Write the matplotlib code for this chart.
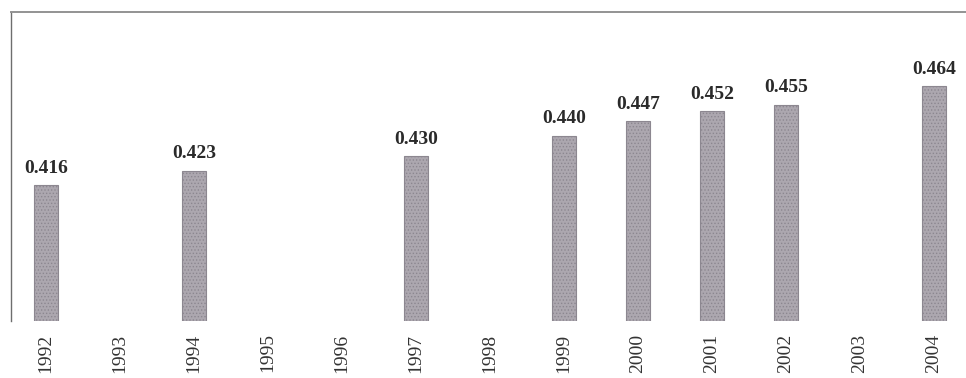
import numpy as np
import matplotlib.pyplot as plt

# Gini values by year (blank years have no survey)
years = ['1992', '1993', '1994', '1995', '1996', '1997', '1998',
         '1999', '2000', '2001', '2002', '2003', '2004']
gini = [0.416, None, 0.423, None, None, 0.430, None,
        0.440, 0.447, 0.452, 0.455, None, 0.464]

plt.rcParams['font.family'] = ['Liberation Serif', 'DejaVu Serif']
plt.rcParams['hatch.linewidth'] = 0.6

fig = plt.figure(figsize=(9.66, 3.78), dpi=100)
ax = fig.add_axes([11 / 966, 1 - 321 / 378, 955 / 966, 309 / 378])

x = np.arange(len(years))
idx = [i for i, v in enumerate(gini) if v is not None]
vals = [gini[i] for i in idx]

ax.bar(idx, vals, width=0.33, color='#aca7af',
       edgecolor='#8c8790', linewidth=0.8, hatch='.....', zorder=2)

# value labels, slightly spread out like the printed figure
for i, v in zip(idx, vals):
    ax.annotate(f'{v:.3f}', (i, v), xytext=(0, 6), textcoords='offset points',
                ha='center', va='bottom', fontsize=14, fontweight='bold',
                fontstretch='condensed', color='#2a2a2a')

ax.set_xlim(-35 / 74, 920 / 74)
ax.set_ylim(0.35, 0.50)

ax.set_xticks(x)
ax.set_xticklabels(years, rotation=90, fontsize=14, color='#333333', va='top')
ax.tick_params(axis='x', length=0, pad=9)
ax.set_yticks([])

ax.spines['bottom'].set_visible(False)
ax.spines['right'].set_visible(False)
ax.spines['left'].set_color('#6e6e6e')
ax.spines['left'].set_linewidth(1.0)
ax.spines['top'].set_color('#939393')
ax.spines['top'].set_linewidth(1.4)

fig.savefig('out.png', dpi=100, facecolor='white')
